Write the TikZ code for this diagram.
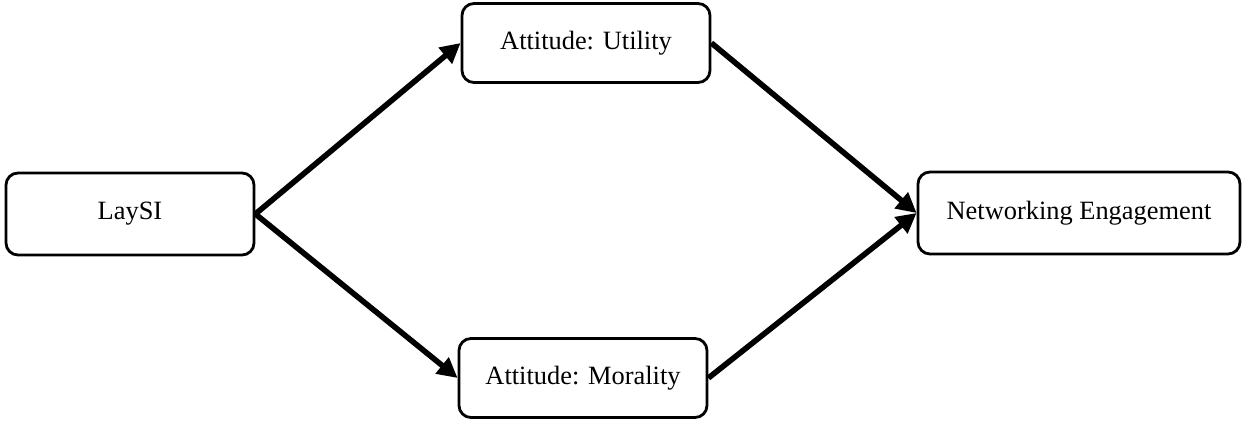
\documentclass[tikz,border=0pt]{standalone}
\usepackage{fontspec}
\setmainfont{Liberation Serif}
\usepackage{tikz}
\usetikzlibrary{arrows.meta, positioning}
\tikzset{
  varbox/.style={draw=black, fill=white, rounded corners=6pt, align=center,
    minimum height=41pt, minimum width=124pt, font=\fontsize{13.2}{15}\selectfont, text=black, line width=1.4pt},
  path/.style={-{Triangle[length=10pt, width=10pt]}, draw=black, line width=2.8pt}
}
\begin{document}
\begin{tikzpicture}[x=0.5pt, y=-0.5pt]
\useasboundingbox (0,0) rectangle (1247,422);
\node[varbox] (lay) at (130,214) {LaySI};
\node[varbox, minimum height=39.5pt] (util) at (586,43) {Attitude: Utility};
\node[varbox, minimum height=39.5pt] (moral) at (583,378) {Attitude: Morality};
\node[varbox, minimum width=161pt] (net) at (1079,213) {Networking Engagement};
\draw[path] (lay.east)--(util.west); \draw[path] (lay.east)--(moral.west);
\draw[path] (util.east)--(net.west); \draw[path] (moral.east)--(net.west);
\end{tikzpicture}
\end{document}
